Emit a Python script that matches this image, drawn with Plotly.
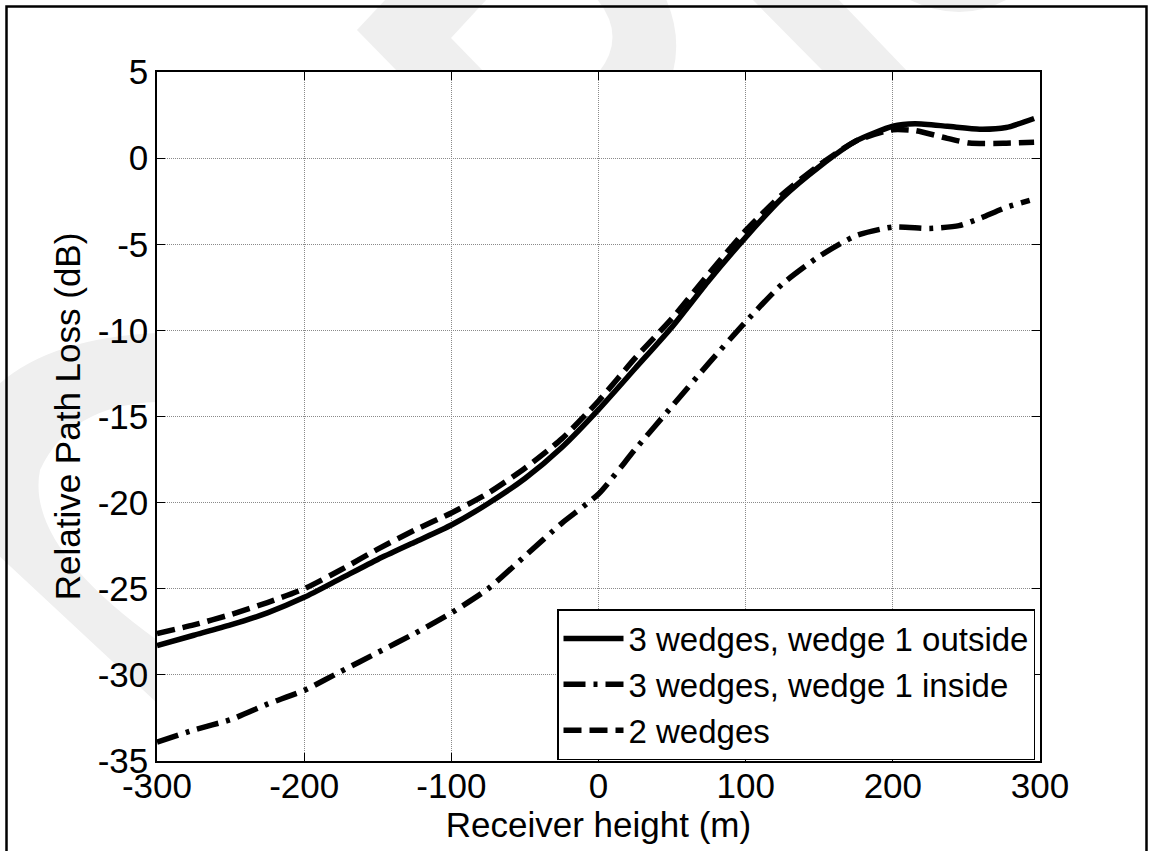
import plotly.graph_objects as go

# ---------------- data ----------------
x_out = [-300, -275, -250, -225, -200, -175, -150, -125, -100, -75, -50, -25, 0,
         25, 50, 75, 100, 125, 150, 175, 200, 215, 237, 259, 277, 296]
y_out = [-28.3, -27.7, -27.1, -26.4, -25.5, -24.4, -23.3, -22.3, -21.3, -20.05, -18.6, -16.8, -14.6,
         -12.2, -9.8, -7.1, -4.6, -2.3, -0.5, 1.0, 1.85, 2.0, 1.85, 1.68, 1.78, 2.3]

x_in = [-300, -275, -250, -225, -200, -175, -150, -125, -100, -75, -50, -25, 0,
        25, 50, 75, 100, 125, 150, 175, 200, 225, 245, 259, 277, 293]
y_in = [-33.9, -33.2, -32.6, -31.7, -30.9, -29.8, -28.7, -27.6, -26.4, -25.0, -23.1, -21.2, -19.5,
        -16.9, -14.4, -11.9, -9.5, -7.3, -5.7, -4.5, -4.0, -4.08, -3.92, -3.5, -2.86, -2.45]

x_two = [-300, -275, -250, -225, -200, -175, -150, -125, -100, -75, -50, -25, 0,
         25, 50, 75, 100, 125, 150, 175, 200, 215, 237, 252, 275, 296]
y_two = [-27.6, -27.1, -26.5, -25.8, -25.0, -23.9, -22.7, -21.6, -20.6, -19.45, -18.0, -16.3, -14.1,
         -11.6, -9.3, -6.7, -4.2, -2.1, -0.4, 1.0, 1.65, 1.6, 1.15, 0.88, 0.86, 0.92]

names = ["3 wedges, wedge 1 outside", "3 wedges, wedge 1 inside", "2 wedges"]
x_ticks = [-300, -200, -100, 0, 100, 200, 300]
y_ticks = [-35, -30, -25, -20, -15, -10, -5, 0, 5]

FONT = "Liberation Sans, Arial, sans-serif"
FS = 35
LFS = 33
LW = 5.5

fig = go.Figure()
fig.add_trace(go.Scatter(x=x_out, y=y_out, mode="lines", name=names[0],
                         line=dict(color="black", width=LW, shape="spline", smoothing=0.6)))
fig.add_trace(go.Scatter(x=x_in, y=y_in, mode="lines", name=names[1],
                         line=dict(color="black", width=LW, shape="spline", smoothing=0.6,
                                   dash="22px,8px,4px,8px")))
fig.add_trace(go.Scatter(x=x_two, y=y_two, mode="lines", name=names[2],
                         line=dict(color="black", width=LW, shape="spline", smoothing=0.6,
                                   dash="18px,8px")))

# ---------------- decorations (watermark + frame) ----------------
L, R, T, B = 157, 1040, 72, 761
PW, PH = R - L, B - T


def px(x, y):
    return f"{(x - L) / PW:.5f},{(B - y) / PH:.5f}"


def path(cmds):
    out = []
    for c in cmds:
        if isinstance(c, str):
            out.append(c)
        else:
            out.append(" ".join(px(*p) for p in c))
    return " ".join(out)


WM = "#efefef"
wm_paths = [
    path(["M", [(386, -1)], "L", [(357, 30)], "L", [(398, 72)], "L", [(484, 72)], "L", [(451, 38)],
          "L", [(487, -1)], "Z"]),
    path(["M", [(597, -1)], "Q", [(627, 36), (599, 72)], "L", [(673, 72)], "Q", [(682, 36), (666, -1)], "Z"]),
    path(["M", [(752, -1)], "L", [(824, 72)], "L", [(908, 72)], "L", [(838, -1)], "Z"]),
    path(["M", [(908, -1)], "Q", [(960, 25), (1008, -1)], "Z"]),
    path(["M", [(157, 333)], "Q", [(50, 338), (-2, 385)], "L", [(-2, 555)], "L", [(157, 703)],
          "L", [(157, 640)], "Q", [(25, 545), (40, 470)], "Q", [(70, 405), (157, 402)], "Z"]),
]
shapes = [dict(type="path", xref="paper", yref="paper", path=p, fillcolor=WM,
               line=dict(width=0), layer="below") for p in wm_paths]
# outer figure frame
shapes.append(dict(type="path", xref="paper", yref="paper",
                   path=path(["M", [(6.5, 860)], "L", [(6.5, 6.5)], "L", [(1146.5, 6.5)], "L", [(1146.5, 860)]]),
                   line=dict(color="black", width=2.5), layer="above"))

fig.update_layout(
    width=1150, height=851,
    margin=dict(l=L, r=1150 - R, t=T, b=851 - B),
    paper_bgcolor="white", plot_bgcolor="white",
    font=dict(family=FONT, size=FS, color="black"),
    showlegend=True,
    legend=dict(x=(1035 - L) / PW, y=(B - 609) / PH, xanchor="right", yanchor="top",
                bgcolor="white", bordercolor="black", borderwidth=1.5,
                font=dict(family=FONT, size=LFS, color="black"),
                itemwidth=60, tracegroupgap=0),
    shapes=shapes,
)

axis_common = dict(showline=True, linecolor="black", linewidth=1.5, mirror="ticks",
                   ticks="inside", ticklen=8, tickwidth=1.2, tickcolor="black",
                   showgrid=True, gridcolor="#8a8a8a", gridwidth=1, griddash="1px,1px",
                   zeroline=False, tickfont=dict(family=FONT, size=FS, color="black"))

fig.update_xaxes(range=[-300, 300], tickmode="array", tickvals=x_ticks,
                 ticktext=[str(v) for v in x_ticks], ticklabelstandoff=-7,
                 title=dict(text="Receiver height (m)", font=dict(family=FONT, size=FS), standoff=0),
                 **axis_common)
fig.update_yaxes(range=[-35, 5], tickmode="array", tickvals=y_ticks,
                 ticktext=[str(v) for v in y_ticks],
                 title=dict(text="Relative Path Loss (dB)", font=dict(family=FONT, size=FS), standoff=6),
                 **axis_common)

fig.write_html("out.html")
